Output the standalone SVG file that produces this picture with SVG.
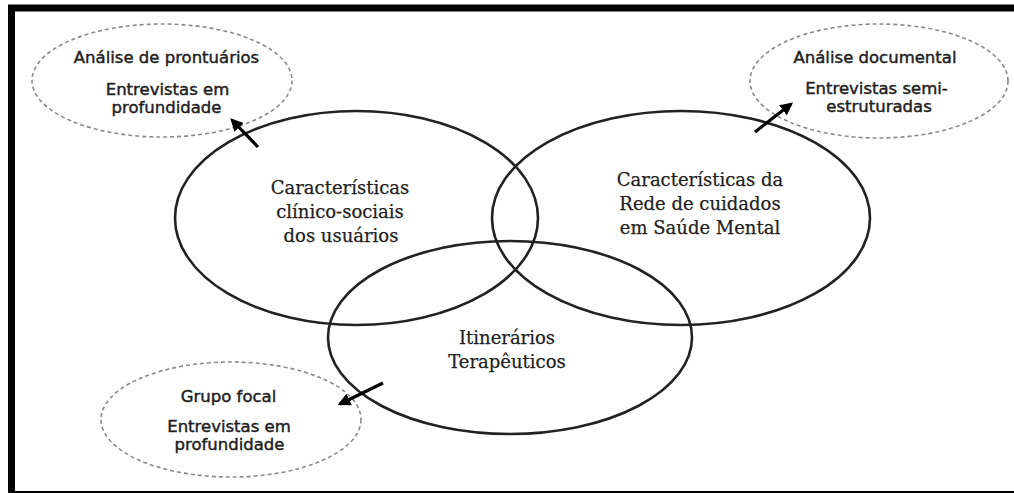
<svg xmlns="http://www.w3.org/2000/svg" width="1014" height="493" viewBox="0 0 1014 493">
  <style>
    .frame { fill: none; stroke: #000; stroke-width: 7; }
    .main { fill: none; stroke: #222; stroke-width: 2.6; }
    .method { fill: none; stroke: #8a8a8a; stroke-width: 1.6; stroke-dasharray: 4 3; }
    .serif { font-family: "DejaVu Serif", "Liberation Serif", serif; font-size: 18px; fill: #222; stroke: #222; stroke-width: 0.25; text-anchor: middle; }
    .sans { font-family: "DejaVu Sans", "Liberation Sans", sans-serif; font-size: 16.5px; fill: #222; stroke: #222; stroke-width: 0.45; text-anchor: middle; }
    .arrow { stroke: #000; stroke-width: 3.2; fill: none; marker-end: url(#ah); }
  </style>
  <defs>
    <marker id="ah" viewBox="0 0 10 10" refX="8" refY="5" markerWidth="4" markerHeight="4" orient="auto" markerUnits="strokeWidth">
      <path d="M0,0 L10,5 L0,10 Z" fill="#000"/>
    </marker>
  </defs>
  <rect width="1014" height="493" fill="#fff"/>
  <rect class="frame" x="11.5" y="8" width="1030" height="486.5"/>

  <g id="node-clinico">
    <ellipse class="main" cx="356.5" cy="218" rx="181.5" ry="107"/>
    <text class="serif" x="340" y="194">Características</text>
    <text class="serif" x="340" y="218">clínico-sociais</text>
    <text class="serif" x="341" y="242">dos usuários</text>
  </g>
  <g id="node-rede">
    <ellipse class="main" cx="681" cy="218" rx="189" ry="107"/>
    <text class="serif" x="700" y="186">Características da</text>
    <text class="serif" x="700" y="210">Rede de cuidados</text>
    <text class="serif" x="700" y="234">em Saúde Mental</text>
  </g>
  <g id="node-itinerarios">
    <ellipse class="main" cx="510" cy="337.5" rx="182" ry="96.5"/>
    <text class="serif" x="507" y="344">Itinerários</text>
    <text class="serif" x="507" y="368">Terapêuticos</text>
  </g>

  <g id="node-metodo-usuarios">
    <ellipse class="method" cx="162" cy="80.5" rx="130" ry="56.5"/>
    <text class="sans" x="166.5" y="63">Análise de prontuários</text>
    <text class="sans" x="167.5" y="95">Entrevistas em</text>
    <text class="sans" x="166.5" y="113">profundidade</text>
  </g>
  <g id="node-metodo-rede">
    <ellipse class="method" cx="879" cy="81" rx="129" ry="57"/>
    <text class="sans" x="875" y="63">Análise documental</text>
    <text class="sans" x="876.5" y="94">Entrevistas semi-</text>
    <text class="sans" x="879" y="112">estruturadas</text>
  </g>
  <g id="node-metodo-itinerarios">
    <ellipse class="method" cx="231" cy="419.5" rx="130" ry="57.5"/>
    <text class="sans" x="228.5" y="402">Grupo focal</text>
    <text class="sans" x="229" y="432">Entrevistas em</text>
    <text class="sans" x="229.5" y="450">profundidade</text>
  </g>

  <g id="connectors">
    <line class="arrow" x1="258" y1="147" x2="232" y2="120"/>
    <line class="arrow" x1="755" y1="132" x2="791" y2="104"/>
    <line class="arrow" x1="383" y1="383" x2="340" y2="404"/>
  </g>
</svg>
